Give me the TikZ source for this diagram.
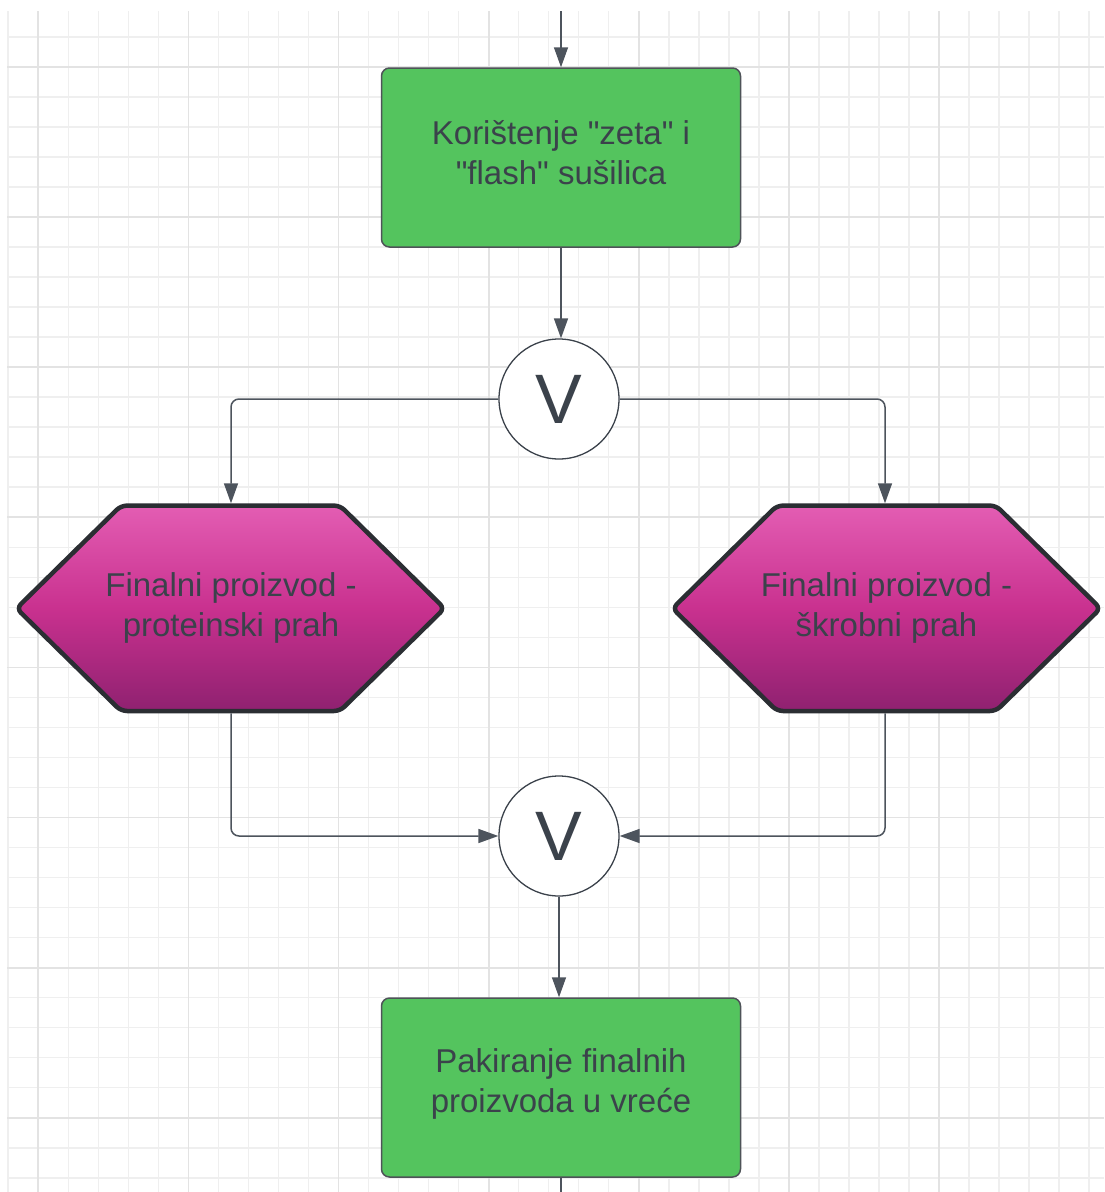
\documentclass[tikz,border=0pt]{standalone}
\usepackage{fontspec}
\setmainfont{Liberation Sans}[Ligatures=TeXOff]
\usetikzlibrary{arrows.meta}
\definecolor{gridminor}{HTML}{EFEFEF}
\definecolor{gridmajor}{HTML}{E3E3E3}
\definecolor{boxgreen}{HTML}{54C45E}
\definecolor{boxborder}{HTML}{4E5358}
\definecolor{textcol}{HTML}{3B424B}
\definecolor{conncol}{HTML}{4D545D}
\definecolor{hexborder}{HTML}{2B2E33}
\definecolor{hextop}{HTML}{E35DB3}
\definecolor{hexmid}{HTML}{C9318F}
\definecolor{hexbot}{HTML}{8F2170}
\tikzset{
  proc/.style={draw=boxborder, line width=1.5pt, fill=boxgreen, rounded corners=8pt,
    minimum width=359pt, minimum height=179pt, inner sep=0pt},
  txt/.style={text=textcol, font=\fontsize{33}{40}\selectfont, align=center, inner sep=0pt},
  gate/.style={circle, draw=textcol, line width=1.3pt, fill=white, minimum size=120pt,
    inner sep=0pt, font=\fontsize{70}{70}\selectfont, text=textcol},
  hexstyle/.style={draw=hexborder, line width=4.5pt, rounded corners=6pt,
    top color=hextop, bottom color=hexbot, middle color=hexmid},
  conn/.style={draw=conncol, line width=1.5pt, rounded corners=8pt},
  arr/.style={-{Triangle[length=20pt,width=14pt]}, conncol}
}
\begin{document}
\begin{tikzpicture}[x=1pt,y=-1pt]
\useasboundingbox (0,0) rectangle (1104,1192);
\fill[white] (0,0) rectangle (1104,1192);
% grid
\foreach \k in {0,...,36} {
  \draw[gridminor, line width=1.6pt] ({8.28+30.02*\k},11) -- ({8.28+30.02*\k},1192);
}
\foreach \k in {1,...,39} {
  \draw[gridminor, line width=1.6pt] (7,{6.96+30.02*\k}) -- (1104,{6.96+30.02*\k});
}
\foreach \j in {0,...,6} {
  \draw[gridmajor, line width=1.8pt] ({38.3+150.1*\j},11) -- ({38.3+150.1*\j},1192);
}
\foreach \j in {0,...,7} {
  \draw[gridmajor, line width=1.8pt] (7,{67+150.1*\j}) -- (1104,{67+150.1*\j});
}

% process boxes
\node[proc] (box1) at (561,157.5) {};
\node[txt] (t1) at (561,152.2) {Korištenje "zeta" i\\"flash" sušilica};
\node[proc] (box2) at (561,1087.5) {};
\node[txt] (t2) at (561,1084) {Pakiranje finalnih\\proizvoda u vreće};

% gates
\node[gate] (gate1) at (559,399) {V};
\node[gate] (gate2) at (559,836) {V};

% hexagons
\path[hexstyle] (16.5,608.4) -- (121,505.6) -- (340,505.6) -- (444.5,608.4) -- (340,711) -- (121,711) -- cycle;
\node[txt] (t3) at (231,608.3) {Finalni proizvod -\\proteinski prah};
\path[hexstyle] (672.5,608.4) -- (777,505.6) -- (996,505.6) -- (1100.5,608.4) -- (996,711) -- (777,711) -- cycle;
\node[txt] (t4) at (886.5,608.3) {Finalni proizvod -\\škrobni prah};

\coordinate (hexLtop) at (231,503.3);
\coordinate (hexLbot) at (231,713.3);
\coordinate (hexRtop) at (885,503.3);
\coordinate (hexRbot) at (885,713.3);
\coordinate (topend) at (561,11);
\coordinate (botend) at (561,1192);

% connectors
\draw[conn, arr] (topend) -- (box1.north);
\draw[conn, arr] (box1.south) -- (box1.south |- gate1.north);
\draw[conn, arr] (gate1.west) -| (hexLtop);
\draw[conn, arr] (gate1.east) -| (hexRtop);
\draw[conn, arr] (hexLbot) |- (gate2.west);
\draw[conn, arr] (hexRbot) |- (gate2.east);
\draw[conn, arr] (gate2.south) -- (gate2.south |- box2.north);
\draw[conn] (box2.south) -- (botend);
\end{tikzpicture}
\end{document}
